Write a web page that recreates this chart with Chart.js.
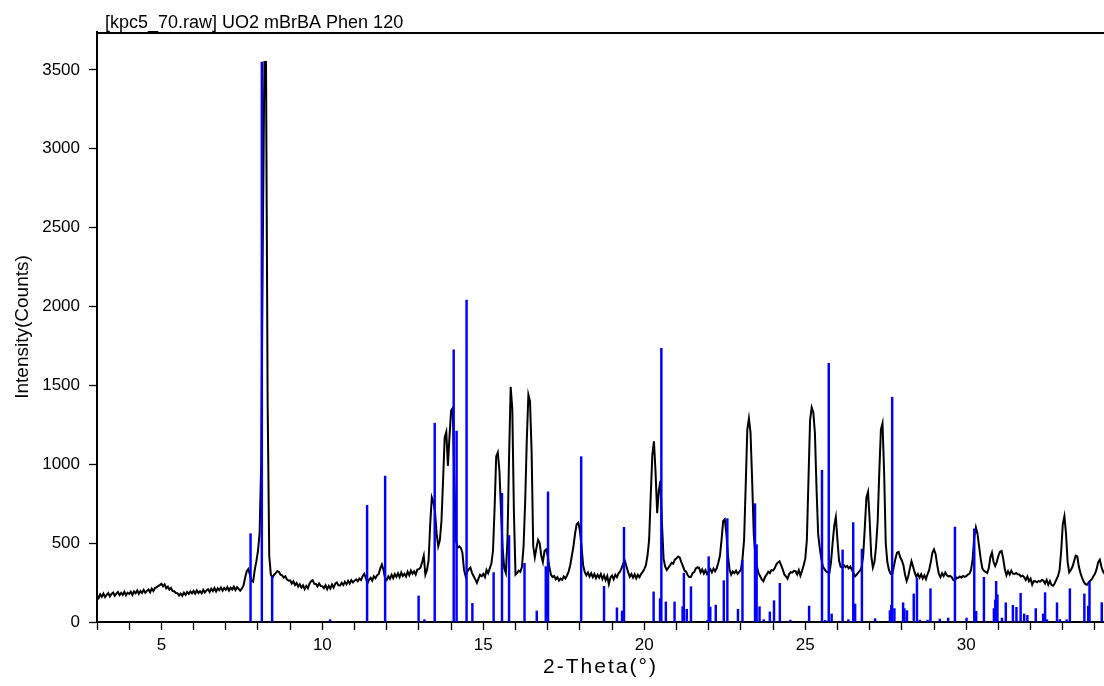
<!DOCTYPE html>
<html>
<head>
<meta charset="utf-8">
<script src="https://cdn.jsdelivr.net/npm/chart.js@4.4.0/dist/chart.umd.min.js"></script>
<style>
  html, body { margin: 0; padding: 0; background: #fff; }
  #wrap { width: 1104px; height: 686px; }
</style>
</head>
<body>
<div id="wrap"><canvas id="xrd" width="1104" height="686"></canvas></div>
<script>
// measured pattern, kpc5_70.raw (start / step / counts as in the raw file)
const chartTitle = '[kpc5_70.raw] UO2 mBrBA Phen 120';
const thetaStart = 3.0;
const thetaStep = 0.05;
const counts = [
  168,152,175,160,180,158,172,184,162,178,186,166,180,190,170,184,172,192,170,186, // 3
  178,192,172,194,182,200,178,196,184,204,186,198,206,188,212,196,216,220,228,234, // 4
  242,226,238,214,224,206,216,196,195,184,183,168,180,166,186,172,190,178,194,182, // 5
  197,180,201,184,195,182,204,187,200,208,190,211,196,215,193,213,201,218,198,216, // 6
  204,221,199,217,206,224,202,220,209,198,212,230,280,320,335,300,262,255,330,385, // 7
  450,560,1000,2400,3550,3550,1400,420,300,282,300,310,322,318,300,296,282,290,270,262, // 8
  264,244,258,234,247,224,239,218,233,209,229,214,243,258,265,242,241,225,244,228, // 9
  227,214,233,208,229,212,238,218,243,251,232,231,248,234,255,239,261,243,265,251, // 10
  262,270,258,275,266,290,305,280,245,268,280,262,290,278,296,305,340,365,330,275, // 11
  266,289,274,300,278,304,286,309,284,314,292,306,288,319,296,326,306,322,301,332, // 12
  335,345,380,420,300,330,390,620,790,760,700,560,480,520,640,900,1170,1205,990,1180, // 13
  1340,1355,900,520,470,480,470,440,330,290,318,335,345,310,290,270,248,275,300,290, // 14
  305,285,330,310,340,370,450,720,1050,1075,960,700,470,340,310,520,1050,1490,1350,700, // 15
  300,310,325,318,350,480,760,1150,1440,1400,1080,480,410,470,520,500,420,380,450,460, // 16
  420,350,300,285,292,270,284,262,275,268,288,276,295,320,360,420,480,560,620,630, // 17
  580,480,360,318,296,314,288,309,284,304,278,300,281,304,272,296,266,292,240,282, // 18
  294,271,300,284,309,320,345,372,385,350,314,286,304,281,302,276,299,284,304,318, // 19
  335,360,420,520,800,1060,1145,950,690,830,895,620,400,350,330,345,360,375,370,395, // 20
  404,415,409,380,354,326,319,296,284,286,309,316,339,346,344,314,334,308,329,304, // 21
  320,335,315,338,322,340,375,420,520,640,650,560,420,330,300,320,310,325,305,318, // 22
  330,400,520,860,1220,1290,1200,900,560,420,350,310,290,270,258,285,300,318,310,330, // 23
  326,341,364,378,385,360,334,301,289,274,304,316,314,324,322,301,329,294,324,360, // 24
  400,520,900,1280,1360,1330,1200,850,560,470,400,350,335,320,315,310,380,500,610,665, // 25
  520,390,350,345,360,348,355,340,352,330,310,290,300,315,325,345,420,600,790,825, // 26
  650,420,345,380,480,640,950,1220,1260,950,500,380,330,305,300,350,400,440,445,410, // 27
  390,360,300,260,290,340,385,350,314,286,304,281,302,276,296,272,304,330,380,440, // 28
  460,430,360,304,284,309,291,314,296,289,292,284,266,264,281,279,288,282,292,286, // 29
  290,300,305,330,400,540,600,560,480,400,340,325,318,310,340,410,440,380,355,380, // 30
  420,445,450,400,334,296,322,301,326,306,304,311,302,301,289,294,284,266,289,258, // 31
  274,236,259,258,252,261,256,266,262,244,266,236,259,234,230,246,269,290,330,450, // 32
  620,670,560,380,315,330,350,385,420,415,350,310,280,255,240,236,250,262,270,290, // 33
  305,335,380,395,350,320,305                                                      // 34
];

// reference pattern sticks
const stickTheta = [
  7.77, 8.12, 8.44, 10.24, 11.39, 11.95, 12.99, 13.17, 13.49, 14.08, 14.17, 14.48, 14.66,
  15.32, 15.58, 15.80, 16.28, 16.66, 16.94, 17.01, 18.04, 18.75, 19.15, 19.31, 19.37,
  20.29, 20.49, 20.53, 20.67, 20.94, 21.19, 21.23, 21.32, 21.45, 21.96, 22.00, 22.05,
  22.22, 22.47, 22.58, 22.91, 23.05, 23.44, 23.49, 23.58, 23.71, 23.90, 24.03, 24.21,
  24.54, 25.12, 25.52, 25.62, 25.73, 25.82, 26.16, 26.34, 26.49, 26.55, 26.76, 27.17,
  27.63, 27.67, 27.70, 27.77, 28.04, 28.08, 28.16, 28.37, 28.47, 28.56, 28.80, 28.89,
  29.18, 29.44, 29.65, 30.01, 30.25, 30.31, 30.55, 30.86, 30.90, 30.93, 30.97, 31.11,
  31.23, 31.45, 31.56, 31.69, 31.80, 31.90, 32.16, 32.39, 32.45, 32.51, 32.82, 32.91,
  33.12, 33.22, 33.67, 33.79, 33.83, 34.21
];
const stickIntensity = [
  560, 3550, 290, 15, 740, 925, 165, 15, 1260, 1725, 1210, 2040, 118,
  313, 816, 548, 372, 70, 351, 825, 1048, 226, 90, 70, 600,
  191, 148, 1735, 127, 127, 97, 310, 81, 224, 10, 414, 95,
  107, 262, 655, 81, 393, 750, 490, 97, 15, 64, 135, 245,
  12, 101, 962, 10, 1640, 51, 457, 15, 630, 114, 462, 21,
  72, 106, 1425, 85, 122, 85, 72, 178, 279, 12, 12, 211,
  19, 25, 602, 25, 590, 68, 283, 85, 140, 258, 173, 25,
  122, 106, 93, 182, 51, 42, 85, 51, 186, 15, 122, 16,
  15, 211, 178, 101, 254, 123
];

const yTicks = [0, 500, 1000, 1500, 2000, 2500, 3000, 3500];
const xLabelEvery = 5;

const measured = counts.map((c, i) => ({ x: +(thetaStart + i * thetaStep).toFixed(2), y: c }));
const sticks = stickTheta.map((t, i) => ({ x: t, y: stickIntensity[i] }));

const FONT = '"Liberation Sans", Arial, sans-serif';

const framePlugin = {
  id: 'frame',
  afterDraw(chart) {
    const { ctx, chartArea } = chart;
    ctx.save();
    ctx.strokeStyle = '#000';
    ctx.lineWidth = 2;
    ctx.beginPath();
    ctx.moveTo(chartArea.left, chartArea.top + 1);
    ctx.lineTo(chartArea.right, chartArea.top + 1);
    ctx.stroke();

    ctx.fillStyle = '#000';
    ctx.font = '18px ' + FONT;
    ctx.textBaseline = 'alphabetic';
    ctx.textAlign = 'left';
    ctx.fillText(chartTitle, chartArea.left + 8, 28);

    // x axis title (spaced like the original)
    ctx.font = '21px ' + FONT;
    ctx.letterSpacing = '2px';
    ctx.textAlign = 'center';
    ctx.textBaseline = 'middle';
    ctx.fillText('2-Theta(°)', (chartArea.left + chartArea.right) / 2, 667);
    ctx.restore();
  }
};

new Chart(document.getElementById('xrd'), {
  type: 'bar',
  data: {
    datasets: [
      {
        type: 'bar',
        data: sticks,
        backgroundColor: '#0000ff',
        borderWidth: 0,
        barThickness: 1.8
      },
      {
        type: 'line',
        data: measured,
        borderColor: '#000',
        borderWidth: 2,
        pointRadius: 0,
        tension: 0,
        fill: false
      }
    ]
  },
  options: {
    responsive: false,
    animation: false,
    layout: { padding: { top: 32, right: 0, left: 0, bottom: 0 } },
    plugins: { legend: { display: false }, tooltip: { enabled: false }, title: { display: false } },
    scales: {
      x: {
        type: 'linear',
        min: 3,
        max: 34.28,
        offset: false,
        afterFit: s => { s.height = 64; },
        grid: { display: true, offset: false, drawOnChartArea: false, drawTicks: true, tickLength: 8, color: '#000', tickWidth: 1.3 },
        border: { display: true, color: '#000', width: 2 },
        ticks: {
          stepSize: 1,
          autoSkip: false,
          includeBounds: false,
          maxRotation: 0,
          padding: 5,
          color: '#000',
          font: { family: FONT, size: 17 },
          callback: v => (Math.round(v) % xLabelEvery === 0 ? String(Math.round(v)) : '')
        }
      },
      y: {
        min: 0,
        max: 3740,
        afterFit: s => { s.width = 97; },
        afterBuildTicks: s => { s.ticks = yTicks.map(v => ({ value: v })); },
        grid: { display: true, drawOnChartArea: false, drawTicks: true, tickLength: 8, color: '#000', tickWidth: 1.3 },
        border: { display: true, color: '#000', width: 2 },
        ticks: {
          padding: 9,
          color: '#000',
          font: { family: FONT, size: 17 },
          callback: v => String(v)
        },
        title: {
          display: true,
          text: 'Intensity(Counts)',
          color: '#000',
          font: { family: FONT, size: 19 },
          padding: { top: 11, bottom: 0 }
        }
      }
    }
  },
  plugins: [framePlugin]
});
</script>
</body>
</html>
